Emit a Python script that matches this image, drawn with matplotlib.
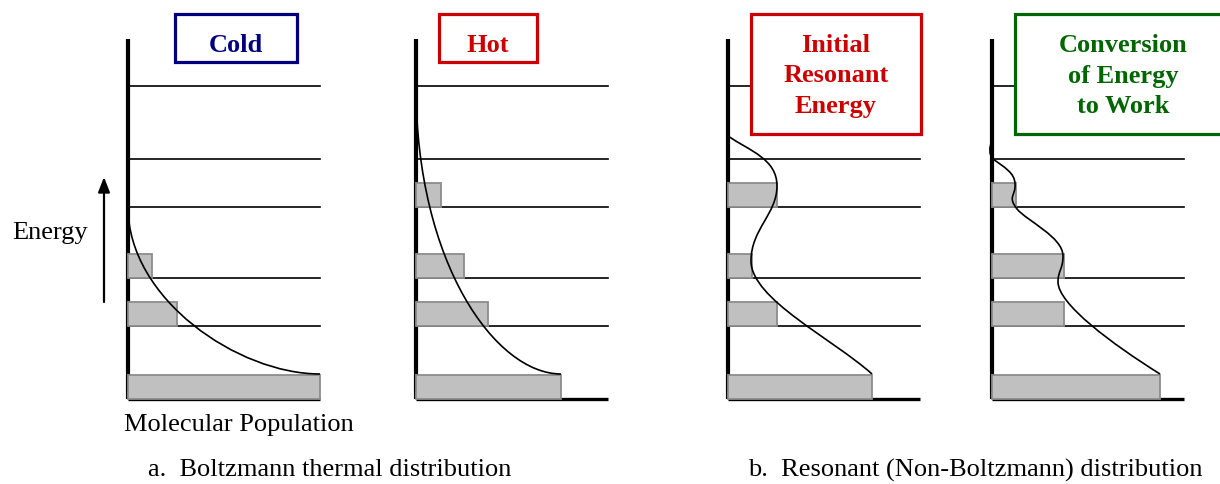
import matplotlib
matplotlib.use("Agg")
import matplotlib.pyplot as plt
from matplotlib.patches import Rectangle, PathPatch
from matplotlib.path import Path

# energy levels (height above the population axis) and bar thickness
LEVELS = [0, 73, 121, 192, 240, 313]
BAR_HEIGHT = 24
LINE_LENGTH = 192
AXIS_TOP = 360

# population on each level, one list per panel
COLD_POP = [192, 49, 24, 0, 0, 0]
HOT_POP = [145, 72, 48, 25, 0, 0]
INITIAL_POP = [144, 49, 24, 49, 0, 0]
CONVERSION_POP = [168, 72, 72, 24, 0, 0]

# distribution curves as cubic bezier control points (x = population, y = energy)
COLD_CURVE = [(0, 192), (0, 100), (110, 25), (192, 25)]
HOT_CURVE = [(0, 313), (0, 135), (80, 25), (145, 25)]
INITIAL_CURVE = [(0, 263), (22, 248), (49, 240), (49, 213),
                 (49, 185), (23, 170), (23, 138),
                 (23, 100), (105, 60), (144, 25)]
CONVERSION_CURVE = [(0, 258), (-3, 252), (-3, 244), (1, 240),
                    (12, 232), (23, 226), (23, 215),
                    (24, 203), (15, 203), (25, 190),
                    (35, 178), (71, 162), (71, 143),
                    (71, 130), (66, 128), (66, 117),
                    (66, 95), (120, 55), (168, 25)]

TITLES = ["Cold", "Hot", "Initial\nResonant\nEnergy", "Conversion\nof Energy\nto Work"]
TITLE_COLORS = ["#000080", "#cc0000", "#cc0000", "#006600"]

PANELS = {
    "cold": (128, COLD_POP, COLD_CURVE),
    "hot": (416, HOT_POP, HOT_CURVE),
    "initial": (728, INITIAL_POP, INITIAL_CURVE),
    "conversion": (992, CONVERSION_POP, CONVERSION_CURVE),
}

# title box placement in figure pixels: (left, top, right, bottom)
TITLE_BOXES = [(175, 15, 297, 63), (439, 15, 537, 63),
               (751, 15, 921, 135), (1015, 15, 1231, 135)]

W, H = 1220, 485
BASE_Y = 400  # pixel row of population axis
SERIF = ["Liberation Serif", "DejaVu Serif"]


def draw_panel(fig, x0, pops, curve):
    pad = 10
    ax = fig.add_axes([(x0 - pad) / W, (H - BASE_Y - pad) / H,
                       (LINE_LENGTH + 2 * pad) / W, (AXIS_TOP + 2 * pad) / H])
    ax.set_xlim(-pad, LINE_LENGTH + pad)
    ax.set_ylim(-pad, AXIS_TOP + pad)
    ax.axis("off")

    # energy level lines
    for e in LEVELS[1:]:
        ax.plot([0, LINE_LENGTH], [e, e], color="black", lw=1.2, zorder=1)
    # axes
    ax.plot([0, LINE_LENGTH], [0, 0], color="black", lw=2.4, zorder=1,
            solid_capstyle="butt")
    ax.plot([0, 0], [0, AXIS_TOP], color="black", lw=3, zorder=2,
            solid_capstyle="butt")

    # population bars (empty levels get no bar)
    filled = [(e, p) for e, p in zip(LEVELS, pops) if p > 0]
    ax.barh([e for e, p in filled], [p for e, p in filled], height=BAR_HEIGHT,
            align="edge", color="#c0c0c0", edgecolor="#8c8c8c",
            linewidth=1.3, zorder=3)

    # distribution curve
    codes = [Path.MOVETO] + [Path.CURVE4] * (len(curve) - 1)
    path = Path(curve, codes)
    ax.add_patch(PathPatch(path, facecolor="none", edgecolor="black",
                           lw=1.2, zorder=4))
    return ax


def main():
    fig = plt.figure(figsize=(W / 100, H / 100), dpi=100)

    for name, (x0, pops, curve) in PANELS.items():
        draw_panel(fig, x0, pops, curve)

    # overlay in pixel coordinates for titles and labels
    over = fig.add_axes([0, 0, 1, 1], zorder=10)
    over.set_xlim(0, W)
    over.set_ylim(H, 0)
    over.axis("off")
    over.patch.set_alpha(0)

    for title, col, (l, t, r, b) in zip(TITLES, TITLE_COLORS, TITLE_BOXES):
        over.add_patch(Rectangle((l, t), r - l, b - t, facecolor="white",
                                 edgecolor=col, lw=2.3))
        for i, line in enumerate(title.split("\n")):
            over.text((l + r) / 2, 52 + 30.5 * i, line, color=col, fontsize=19,
                      fontweight="bold", family=SERIF, ha="center",
                      va="baseline")

    over.text(12, 233, "Energy", fontsize=19, family=SERIF, ha="left", va="center")
    over.annotate("", xy=(104, 178), xytext=(104, 303),
                  arrowprops=dict(arrowstyle="-|>,head_length=0.9,head_width=0.35",
                                  color="black", lw=1.6, shrinkA=0, shrinkB=0))
    over.text(124, 425, "Molecular Population", fontsize=19, family=SERIF,
              ha="left", va="center")
    over.text(148, 470, "a.  Boltzmann thermal distribution", fontsize=19,
              family=SERIF, ha="left", va="center")
    over.text(748, 470, "b.  Resonant (Non-Boltzmann) distribution", fontsize=19,
              family=SERIF, ha="left", va="center")

    fig.savefig("out.png", dpi=100)


if __name__ == "__main__":
    main()
